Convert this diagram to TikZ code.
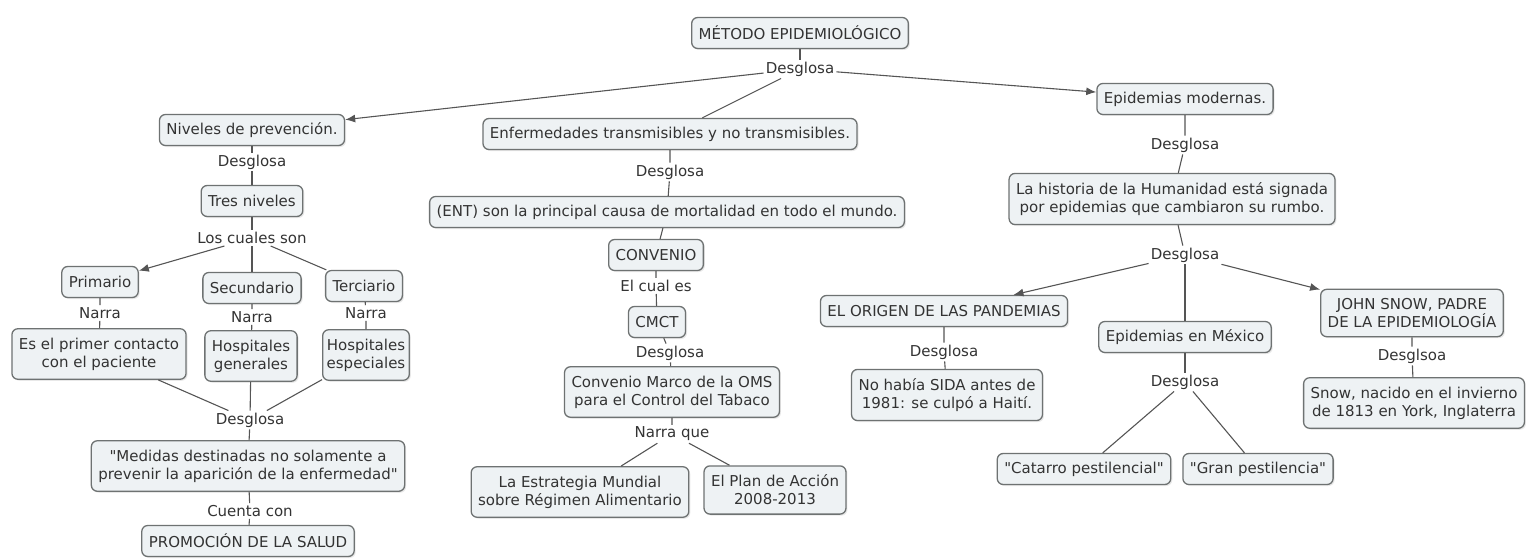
\documentclass[tikz,border=0pt]{standalone}
\usepackage{fontspec}
\setmainfont{DejaVu Sans}[Ligatures=TeXOff]
\usetikzlibrary{arrows.meta,shadows}
\definecolor{boxfill}{HTML}{EEF2F4}
\definecolor{boxline}{HTML}{6E7272}
\definecolor{linkline}{HTML}{555555}
\definecolor{txt}{HTML}{333333}
\tikzset{
  concept/.style={draw=boxline, line width=1.3pt, fill=boxfill, rounded corners=6pt,
    text=txt, align=center, inner xsep=7pt, inner ysep=5pt, minimum height=31pt,
    drop shadow={opacity=0.18, shadow xshift=1.5pt, shadow yshift=-1.5pt}},
  tall/.style={inner ysep=9pt},
  link/.style={text=txt, inner sep=2pt},
  conn/.style={draw=linkline, line width=1.1pt},
  arr/.style={conn, -{Latex[length=10pt,width=8pt]}}
}
\begin{document}
\begin{tikzpicture}[x=1pt, y=-1pt, font=\fontsize{15}{18}\selectfont]
\useasboundingbox (0,0) rectangle (1530,559);
% top
\node [concept] (met) at (800,33) {MÉTODO EPIDEMIOLÓGICO};
\node [link] (l0) at (800,69) {Desglosa};
\node [concept] (niv) at (252,130) {Niveles de prevención.};
\node [concept] (enf) at (670,134) {Enfermedades transmisibles y no transmisibles.};
\node [concept] (epi) at (1185,99) {Epidemias modernas.};
\draw [conn] (met) -- (l0);
\draw [arr] (l0) -- (niv);
\draw [conn] (l0) -- (enf);
\draw [arr] (l0) -- (epi);
% left column
\node [link] (l1) at (252,162) {Desglosa};
\node [concept] (tres) at (252,201) {Tres niveles};
\node [link] (l2) at (252,238) {Los cuales son};
\node [concept] (pri) at (100,282) {Primario};
\node [concept] (sec) at (252,288) {Secundario};
\node [concept] (ter) at (364,286) {Terciario};
\node [link] (n1) at (100,313) {Narra};
\node [link] (n2) at (252,317) {Narra};
\node [link] (n3) at (366,313) {Narra};
\node [concept, tall] (es) at (99,354) {Es el primer contacto\\con el paciente};
\node [concept, tall] (hg) at (251,356) {Hospitales\\generales};
\node [concept, tall, inner xsep=4pt] (he) at (366,355) {Hospitales\\especiales};
\node [link] (l3) at (250,420) {Desglosa};
\node [concept, tall] (med) at (248,466) {"Medidas destinadas no solamente a\\prevenir la aparición de la enfermedad"};
\node [link] (l4) at (250,511) {Cuenta con};
\node [concept] (prom) at (248,541) {PROMOCIÓN DE LA SALUD};
\draw [conn] (niv) -- (l1) -- (tres) -- (l2);
\draw [arr] (l2) -- (pri);
\draw [conn] (l2) -- (sec);
\draw [conn] (l2) -- (ter);
\draw [conn] (pri) -- (n1) -- (es);
\draw [conn] (sec) -- (n2) -- (hg);
\draw [conn] (ter) -- (n3) -- (he);
\draw [conn] (es) -- (l3);
\draw [conn] (hg) -- (l3);
\draw [conn] (he) -- (l3);
\draw [conn] (l3) -- (med) -- (l4) -- (prom);
% middle column
\node [link] (l5) at (670,172) {Desglosa};
\node [concept] (ent) at (667,212) {(ENT) son la principal causa de mortalidad en todo el mundo.};
\node [concept] (conv) at (656,255) {CONVENIO};
\node [link] (l6) at (656,286) {El cual es};
\node [concept] (cmct) at (657,322) {CMCT};
\node [link] (l7) at (670,353) {Desglosa};
\node [concept, tall] (marco) at (672,392) {Convenio Marco de la OMS\\para el Control del Tabaco};
\node [link] (l8) at (672,434) {Narra que};
\node [concept, tall] (estr) at (580,492) {La Estrategia Mundial\\sobre Régimen Alimentario};
\node [concept, tall] (plan) at (775,490) {El Plan de Acción\\2008-2013};
\draw [conn] (enf) -- (l5) -- (ent) -- (conv) -- (l6) -- (cmct) -- (l7) -- (marco) -- (l8);
\draw [conn] (l8) -- (estr);
\draw [conn] (l8) -- (plan);
% right column
\node [link] (l9) at (1185,145) {Desglosa};
\node [concept, tall] (hist) at (1172,199) {La historia de la Humanidad está signada\\por epidemias que cambiaron su rumbo.};
\node [link] (l10) at (1185,255) {Desglosa};
\node [concept] (orig) at (944,311) {EL ORIGEN DE LAS PANDEMIAS};
\node [concept] (mex) at (1185,337) {Epidemias en México};
\node [concept, tall] (john) at (1412,313) {JOHN SNOW, PADRE\\DE LA EPIDEMIOLOGÍA};
\node [link] (l11) at (944,352) {Desglosa};
\node [concept, tall] (sida) at (947,395) {No había SIDA antes de\\1981: se culpó a Haití.};
\node [link] (l12) at (1185,382) {Desglosa};
\node [concept] (cat) at (1084,469) {"Catarro pestilencial"};
\node [concept] (gran) at (1258,469) {"Gran pestilencia"};
\node [link] (l13) at (1412,356) {Desglsoa};
\node [concept, tall] (snow) at (1414,403) {Snow, nacido en el invierno\\de 1813 en York, Inglaterra};
\draw [conn] (epi) -- (l9) -- (hist) -- (l10);
\draw [arr] (l10) -- (orig);
\draw [conn] (l10) -- (mex);
\draw [arr] (l10) -- (john);
\draw [conn] (orig) -- (l11) -- (sida);
\draw [conn] (mex) -- (l12);
\draw [conn] (l12) -- (cat);
\draw [conn] (l12) -- (gran);
\draw [conn] (john) -- (l13) -- (snow);
\end{tikzpicture}
\end{document}
